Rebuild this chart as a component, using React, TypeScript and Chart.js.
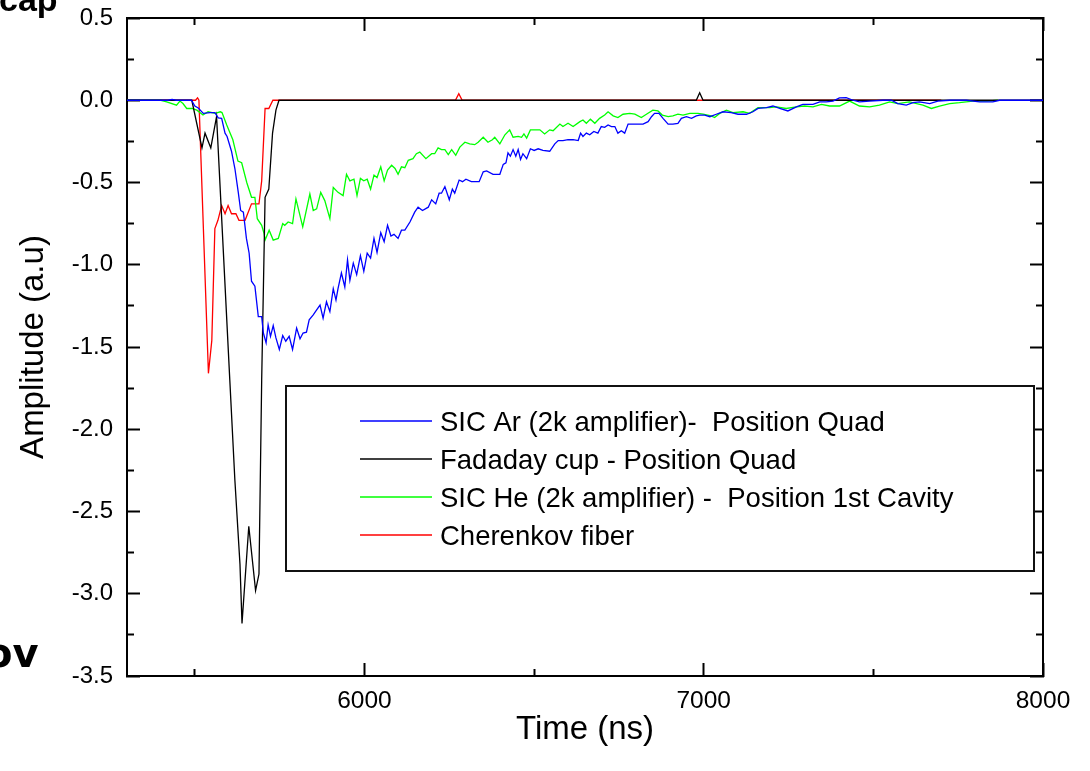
import React, { useEffect, useRef } from "react";
import { Chart, registerables } from "chart.js";

Chart.register(...registerables);

// ---------- data (time in ns, amplitude in a.u.) ----------
const SERIES_LABELS = [
  "SIC Ar (2k amplifier)-  Position Quad",
  "Fadaday cup - Position Quad",
  "SIC He (2k amplifier) -  Position 1st Cavity",
  "Cherenkov fiber",
];
const SERIES_COLORS = ["#0000ff", "#000000", "#00ff00", "#ff0000"];

const SIC_AR: [number, number][] = [
  [5300,0],[5420,0],[5433,0.005],[5445,0],[5490,0],[5500,-0.035],[5510,-0.047],[5525,-0.08],[5545,-0.075],[5559,-0.075],
  [5569,-0.107],[5579,-0.11],[5589,-0.2],[5595,-0.22],[5608,-0.31],[5618,-0.415],[5628,-0.56],[5635,-0.67],[5643,-0.68],
  [5652,-0.84],[5660,-0.93],[5667,-1.1],[5677,-1.13],[5687,-1.315],[5697,-1.315],[5702,-1.415],[5710,-1.475],[5716,-1.365],
  [5723,-1.435],[5731,-1.37],[5739,-1.445],[5749,-1.515],[5759,-1.43],[5768,-1.465],[5778,-1.435],[5788,-1.515],[5800,-1.385],
  [5810,-1.45],[5819,-1.415],[5829,-1.41],[5837,-1.335],[5849,-1.305],[5859,-1.275],[5869,-1.245],[5878,-1.325],[5888,-1.225],
  [5898,-1.285],[5908,-1.145],[5916,-1.215],[5922,-1.145],[5932,-1.05],[5942,-1.135],[5950,-0.97],[5957,-1.095],[5967,-0.99],
  [5977,-1.06],[5988,-0.945],[5998,-1.04],[6008,-0.93],[6018,-0.96],[6028,-0.84],[6037,-0.925],[6048,-0.805],[6058,-0.86],
  [6068,-0.76],[6078,-0.825],[6087,-0.815],[6099,-0.84],[6109,-0.79],[6119,-0.79],[6134,-0.74],[6148,-0.68],[6158,-0.65],
  [6171,-0.67],[6188,-0.65],[6198,-0.605],[6210,-0.63],[6220,-0.565],[6227,-0.565],[6237,-0.525],[6250,-0.605],[6259,-0.54],
  [6266,-0.565],[6279,-0.485],[6289,-0.495],[6299,-0.48],[6315,-0.495],[6338,-0.495],[6350,-0.435],[6360,-0.43],[6379,-0.45],
  [6399,-0.45],[6409,-0.39],[6417,-0.38],[6423,-0.32],[6430,-0.34],[6438,-0.3],[6446,-0.34],[6453,-0.3],[6460,-0.36],
  [6467,-0.325],[6478,-0.355],[6489,-0.295],[6500,-0.305],[6512,-0.295],[6526,-0.305],[6546,-0.31],[6561,-0.265],[6571,-0.245],
  [6585,-0.245],[6600,-0.24],[6615,-0.24],[6630,-0.245],[6637,-0.2],[6644,-0.22],[6654,-0.2],[6664,-0.21],[6676,-0.19],
  [6688,-0.2],[6698,-0.16],[6708,-0.165],[6718,-0.15],[6728,-0.16],[6738,-0.16],[6747,-0.2],[6757,-0.185],[6767,-0.2],
  [6777,-0.145],[6797,-0.145],[6821,-0.145],[6836,-0.13],[6846,-0.1],[6855,-0.08],[6868,-0.08],[6880,-0.11],[6895,-0.145],
  [6909,-0.145],[6924,-0.14],[6934,-0.11],[6949,-0.1],[6964,-0.11],[6978,-0.095],[6988,-0.09],[7003,-0.09],[7018,-0.1],
  [7037,-0.085],[7057,-0.07],[7081,-0.075],[7101,-0.085],[7126,-0.085],[7145,-0.07],[7160,-0.05],[7185,-0.045],[7204,-0.035],
  [7224,-0.05],[7248,-0.065],[7273,-0.04],[7292,-0.025],[7322,-0.025],[7342,-0.01],[7361,-0.01],[7381,-0.005],[7400,0.014],
  [7420,0.016],[7440,0],[7459,-0.01],[7489,-0.005],[7528,0],[7553,0],[7572,-0.02],[7597,-0.03],[7617,-0.015],[7636,-0.01],
  [7666,-0.02],[7690,-0.005],[7725,0],[7774,0],[7813,-0.01],[7852,-0.01],[7872,0],[8000,0],
];

const FARADAY_CUP: [number, number][] = [
  [5300,0],[5491,0],[5521,-0.29],[5530,-0.2],[5547,-0.29],[5564,-0.1],[5603,-1.7],[5618,-2.31],[5633,-2.82],[5639,-3.18],
  [5659,-2.59],[5679,-2.98],[5689,-2.88],[5697,-1.7],[5707,-0.59],[5718,-0.54],[5729,-0.2],[5739,-0.06],[5748,0],
  [6978,0],[6988,0.045],[6998,0],[8000,0],
];

const SIC_HE: [number, number][] = [
  [5300,0],[5400,0],[5417,-0.01],[5446,-0.03],[5456,-0.005],[5465,-0.02],[5476,-0.05],[5491,-0.05],[5506,-0.06],[5524,-0.09],
  [5539,-0.07],[5560,-0.08],[5575,-0.07],[5580,-0.075],[5594,-0.15],[5612,-0.24],[5627,-0.37],[5638,-0.38],[5653,-0.5],
  [5667,-0.59],[5677,-0.59],[5684,-0.72],[5697,-0.76],[5704,-0.81],[5707,-0.85],[5719,-0.79],[5731,-0.85],[5746,-0.84],
  [5759,-0.75],[5765,-0.76],[5775,-0.74],[5788,-0.75],[5798,-0.6],[5818,-0.77],[5839,-0.57],[5849,-0.67],[5859,-0.66],
  [5871,-0.56],[5883,-0.61],[5898,-0.72],[5908,-0.53],[5922,-0.56],[5937,-0.58],[5947,-0.45],[5957,-0.49],[5969,-0.48],
  [5978,-0.58],[5988,-0.475],[5998,-0.49],[6008,-0.48],[6018,-0.54],[6028,-0.455],[6037,-0.47],[6048,-0.405],[6058,-0.49],
  [6068,-0.425],[6080,-0.395],[6090,-0.415],[6099,-0.45],[6109,-0.405],[6119,-0.41],[6129,-0.365],[6143,-0.355],[6153,-0.325],
  [6163,-0.315],[6181,-0.355],[6198,-0.325],[6207,-0.325],[6217,-0.29],[6227,-0.3],[6237,-0.3],[6247,-0.33],[6257,-0.3],
  [6269,-0.335],[6281,-0.285],[6296,-0.255],[6310,-0.265],[6325,-0.27],[6335,-0.255],[6350,-0.225],[6364,-0.255],[6377,-0.24],
  [6384,-0.225],[6399,-0.265],[6414,-0.21],[6428,-0.18],[6438,-0.225],[6453,-0.22],[6463,-0.225],[6470,-0.205],[6478,-0.23],
  [6489,-0.18],[6517,-0.18],[6531,-0.205],[6546,-0.18],[6556,-0.185],[6576,-0.145],[6585,-0.16],[6600,-0.14],[6615,-0.16],
  [6635,-0.13],[6644,-0.12],[6654,-0.14],[6666,-0.115],[6679,-0.14],[6693,-0.11],[6708,-0.09],[6718,-0.07],[6733,-0.095],
  [6747,-0.105],[6762,-0.085],[6782,-0.08],[6797,-0.085],[6816,-0.105],[6831,-0.085],[6850,-0.06],[6865,-0.065],[6878,-0.09],
  [6895,-0.1],[6909,-0.095],[6924,-0.085],[6939,-0.09],[6959,-0.08],[6983,-0.08],[6998,-0.085],[7022,-0.095],[7032,-0.105],
  [7047,-0.08],[7067,-0.06],[7086,-0.075],[7116,-0.07],[7135,-0.08],[7160,-0.045],[7194,-0.045],[7214,-0.04],[7243,-0.05],
  [7273,-0.04],[7297,-0.035],[7322,-0.04],[7347,-0.025],[7371,-0.035],[7400,-0.035],[7430,-0.005],[7459,-0.035],[7489,-0.04],
  [7518,-0.03],[7548,-0.01],[7572,-0.02],[7606,-0.01],[7646,-0.03],[7671,-0.05],[7695,-0.035],[7725,-0.02],[7754,-0.015],
  [7793,-0.005],[7833,-0.005],[7867,0],
];

const CHERENKOV: [number, number][] = [
  [5300,0],[5502,0],[5508,0.015],[5512,0],[5540,-1.66],[5550,-1.46],[5559,-0.78],[5568,-0.73],[5579,-0.64],[5589,-0.69],
  [5598,-0.64],[5608,-0.69],[5621,-0.69],[5630,-0.73],[5648,-0.73],[5667,-0.63],[5689,-0.63],[5697,-0.49],[5707,-0.05],
  [5718,-0.05],[5730,0],[6268,0],[6278,0.04],[6288,0],[7700,0],
];

const X_MIN = 5300;
const X_MAX = 8000;
const Y_MIN = -3.5;
const Y_MAX = 0.5;
const X_MAJOR_TICKS = [6000, 7000, 8000];
const X_MINOR_TICKS = [5500, 6500, 7500];
const Y_MAJOR_TICKS = [0.5, 0, -0.5, -1, -1.5, -2, -2.5, -3, -3.5];
const Y_MINOR_TICKS = [0.25, -0.25, -0.75, -1.25, -1.75, -2.25, -2.75, -3.25];
const X_TITLE = "Time (ns)";
const Y_TITLE = "Amplitude (a.u)";

// ---------- styling ----------
const FONT_FAMILY = "'Liberation Sans', Arial, Helvetica, sans-serif";

const legendBoxPlugin = {
  id: "legendBox",
  afterDatasetsDraw(chart: any) {
    const { ctx, chartArea } = chart;
    const left = chartArea.left + 159;
    const top = chartArea.top + 368;
    const right = chartArea.left + 907;
    const bottom = chartArea.top + 553;
    ctx.save();
    ctx.fillStyle = "#ffffff";
    ctx.fillRect(left, top, right - left, bottom - top);
    ctx.strokeStyle = "#111111";
    ctx.lineWidth = 2;
    ctx.strokeRect(left, top, right - left, bottom - top);
    ctx.font = `27.5px ${FONT_FAMILY}`;
    ctx.textBaseline = "alphabetic";
    ctx.textAlign = "left";
    chart.data.datasets.forEach((ds: any, i: number) => {
      const y = top + 35 + i * 38;
      ctx.strokeStyle = ds.borderColor;
      ctx.lineWidth = 1.3;
      ctx.beginPath();
      ctx.moveTo(left + 74, y);
      ctx.lineTo(left + 146, y);
      ctx.stroke();
      ctx.fillStyle = "#000000";
      ctx.fillText(ds.label, left + 154, y + 10);
    });
    ctx.restore();
  },
};

function zeroPad(s: any) {
  s.paddingTop = 0;
  s.paddingBottom = 0;
  s.paddingLeft = 0;
  s.paddingRight = 0;
}

function makeAxis(position: string, ticksArr: number[], major: boolean, size: number, extra: any = {}) {
  const horizontal = position === "top" || position === "bottom";
  return {
    type: "linear",
    axis: horizontal ? "x" : "y",
    position,
    min: horizontal ? X_MIN : Y_MIN,
    max: horizontal ? X_MAX : Y_MAX,
    weight: major ? 1 : 0,
    afterBuildTicks: (s: any) => {
      s.ticks = ticksArr.map((v) => ({ value: v }));
    },
    afterFit: (s: any) => {
      if (horizontal) s.height = size;
      else s.width = size;
      zeroPad(s);
    },
    ticks: { display: false, autoSkip: false },
    grid: {
      drawOnChartArea: false,
      drawTicks: true,
      tickLength: major ? -13 : -7,
      tickWidth: 2,
      tickColor: "#000000",
    },
    border: { display: major, color: "#000000", width: 2 },
    ...extra,
  };
}

export default function App() {
  const canvasRef = useRef<HTMLCanvasElement | null>(null);

  useEffect(() => {
    const canvas = canvasRef.current;
    if (!canvas) return;
    const toPts = (arr: [number, number][]) => arr.map(([x, y]) => ({ x, y }));
    const seriesData = [SIC_AR, FARADAY_CUP, SIC_HE, CHERENKOV];

    const chart = new Chart(canvas, {
      type: "line",
      data: {
        datasets: seriesData.map((d, i) => ({
          label: SERIES_LABELS[i],
          data: toPts(d),
          borderColor: SERIES_COLORS[i],
          backgroundColor: SERIES_COLORS[i],
          borderWidth: 1.3,
          pointRadius: 0,
          tension: 0,
          fill: false,
          xAxisID: "x",
          yAxisID: "y",
        })),
      },
      options: {
        responsive: false,
        animation: false,
        devicePixelRatio: 1,
        layout: { padding: { left: 0, right: 47, top: 18, bottom: 0 } },
        plugins: { legend: { display: false }, tooltip: { enabled: false } },
        scales: {
          x: makeAxis("bottom", X_MAJOR_TICKS, true, 95, {
            ticks: {
              display: true,
              autoSkip: false,
              maxRotation: 0,
              padding: 24,
              color: "#000000",
              font: { family: FONT_FAMILY, size: 24.5 },
              callback: (v: any) => String(v),
            },
            title: {
              display: true,
              text: X_TITLE,
              color: "#000000",
              font: { family: FONT_FAMILY, size: 33 },
              padding: { top: 0, bottom: 21 },
            },
          }),
          xMinor: makeAxis("bottom", X_MINOR_TICKS, false, 0),
          xTop: makeAxis("top", X_MAJOR_TICKS, true, 0),
          xTopMinor: makeAxis("top", X_MINOR_TICKS, false, 0),
          y: makeAxis("left", Y_MAJOR_TICKS, true, 127, {
            ticks: {
              display: true,
              autoSkip: false,
              padding: 27,
              color: "#000000",
              font: { family: FONT_FAMILY, size: 24 },
              callback: (v: any) => Number(v).toFixed(1),
            },
            title: {
              display: true,
              text: Y_TITLE,
              color: "#000000",
              font: { family: FONT_FAMILY, size: 33 },
              padding: { top: 14, bottom: 0 },
            },
          }),
          yMinor: makeAxis("left", Y_MINOR_TICKS, false, 0),
          yRight: makeAxis("right", Y_MAJOR_TICKS, true, 0),
          yRightMinor: makeAxis("right", Y_MINOR_TICKS, false, 0),
        },
      } as any,
      plugins: [legendBoxPlugin],
    });

    return () => chart.destroy();
  }, []);

  return (
    <div
      style={{
        position: "fixed",
        left: 0,
        top: 0,
        width: 1090,
        height: 771,
        overflow: "hidden",
        background: "#ffffff",
      }}
    >
      <canvas ref={canvasRef} width={1090} height={771} style={{ display: "block" }} />
      <div
        style={{
          position: "absolute",
          left: -1,
          top: -18,
          fontFamily: "'Liberation Sans', Arial, sans-serif",
          fontWeight: "bold",
          fontSize: 34,
          lineHeight: "34px",
          color: "#000000",
          whiteSpace: "nowrap",
        }}
      >
        cap
      </div>
      <div
        style={{
          position: "absolute",
          left: -15,
          top: 633,
          fontFamily: "'DejaVu Sans', sans-serif",
          fontWeight: "bold",
          fontSize: 40,
          lineHeight: "40px",
          color: "#000000",
          whiteSpace: "nowrap",
        }}
      >
        ov
      </div>
    </div>
  );
}
